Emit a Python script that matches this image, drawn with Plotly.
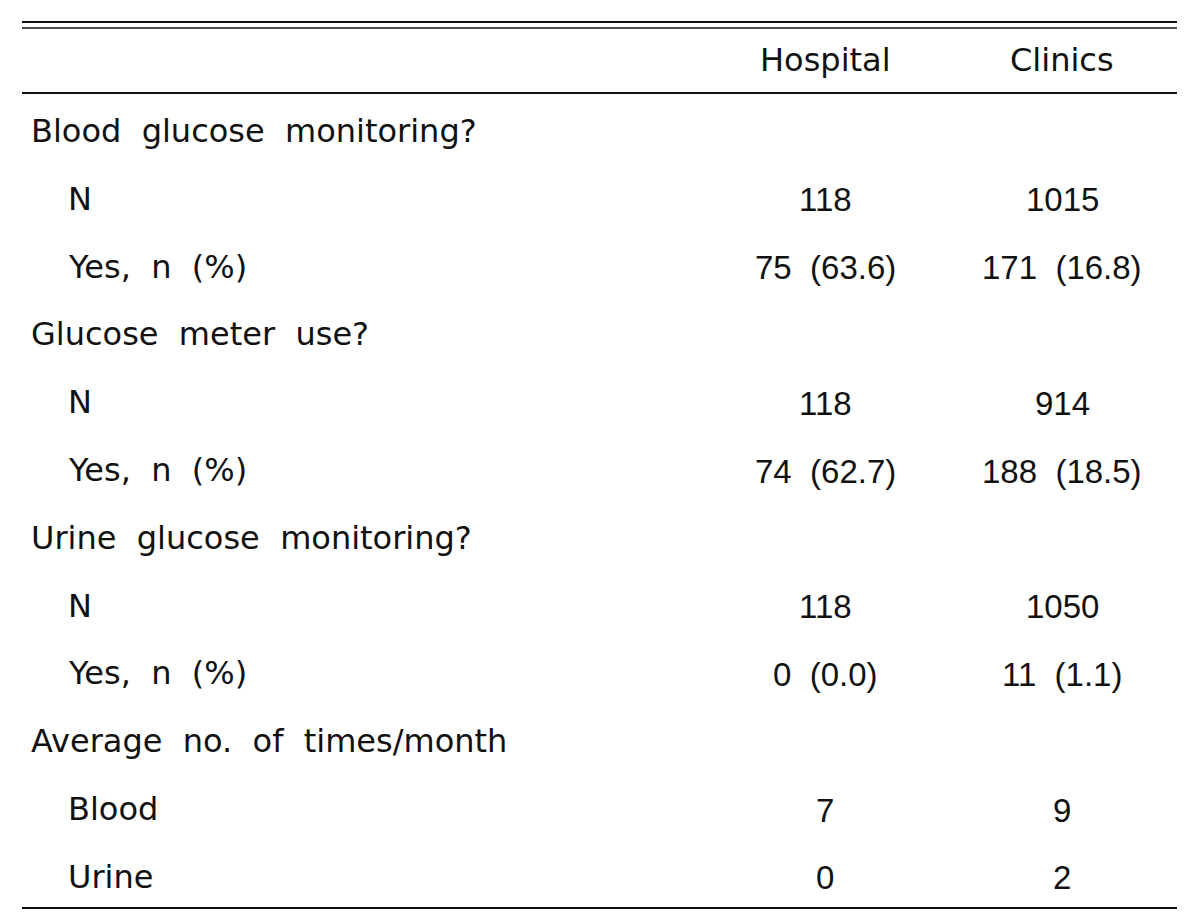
import plotly.graph_objects as go

NB = "\u00a0"

col_headers = ["Hospital", "Clinics"]
row_labels = ["Blood glucose monitoring?", "N", "Yes, n (%)",
              "Glucose meter use?", "N", "Yes, n (%)",
              "Urine glucose monitoring?", "N", "Yes, n (%)",
              "Average no. of times/month", "Blood", "Urine"]
row_level = [0, 1, 1, 0, 1, 1, 0, 1, 1, 0, 1, 1]
hospital_vals = ["", "118", "75 (63.6)", "", "118", "74 (62.7)", "", "118", "0 (0.0)", "", "7", "0"]
clinics_vals = ["", "1015", "171 (16.8)", "", "914", "188 (18.5)", "", "1050", "11 (1.1)", "", "9", "2"]

W, H = 1200, 917
OFF = 8  # page body margin
FONT = dict(family="DejaVu Sans, sans-serif", size=32, color="#111111")
NUMFONT = dict(family="Liberation Sans, Arial, sans-serif", size=33, color="#111111")

def sp(s):
    return s.replace(" ", NB * 2)

fig = go.Figure()
fig.add_trace(go.Scatter(x=[OFF, W], y=[OFF, H], mode="markers", marker=dict(opacity=0),
                         hoverinfo="skip", showlegend=False))

header_y = 60
row_y0 = 131
row_step = 67.8
col_x = [825, 1062]
x_left = 22
x_right = 1177

ann = []
for cx, h in zip(col_x, col_headers):
    ann.append(dict(x=cx, y=header_y, text=h, xanchor="center", yanchor="middle", showarrow=False, font=FONT))

for i, (lab, lvl, hv, cv) in enumerate(zip(row_labels, row_level, hospital_vals, clinics_vals)):
    y = row_y0 + i * row_step
    ann.append(dict(x=29 if lvl == 0 else 66, y=y, text=sp(lab), xanchor="left", yanchor="middle", showarrow=False, font=FONT))
    if hv:
        ann.append(dict(x=col_x[0], y=y + 1, text=sp(hv), xanchor="center", yanchor="middle", showarrow=False, font=NUMFONT))
    if cv:
        ann.append(dict(x=col_x[1], y=y + 1, text=sp(cv), xanchor="center", yanchor="middle", showarrow=False, font=NUMFONT))

shapes = []
for y, w in [(22, 2.2), (28, 1.6), (93, 2.2), (908, 2.2)]:
    shapes.append(dict(type="line", x0=x_left, x1=x_right, y0=y, y1=y, xref="x", yref="y",
                       line=dict(color="#111111", width=w)))

fig.update_layout(
    width=W, height=H,
    margin=dict(l=0, r=0, t=0, b=0),
    paper_bgcolor="white", plot_bgcolor="white",
    xaxis=dict(range=[OFF, W + OFF], visible=False, fixedrange=True),
    yaxis=dict(range=[H + OFF, OFF], visible=False, fixedrange=True),
    annotations=ann, shapes=shapes, showlegend=False,
)

fig.write_html("out.html", config={"displayModeBar": False})
